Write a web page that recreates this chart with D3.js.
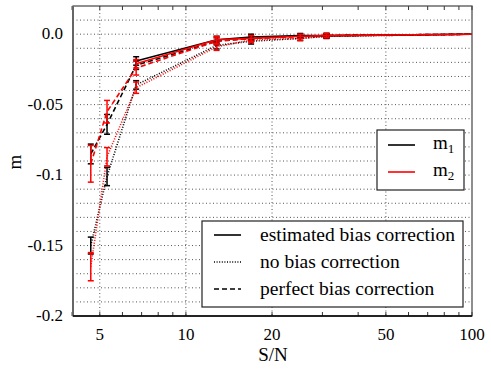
<!DOCTYPE html>
<html>
<head>
<meta charset="utf-8">
<script src="https://cdn.jsdelivr.net/npm/d3@7"></script>
<style>
  body { margin: 0; background: #fff; }
</style>
</head>
<body>
<div id="viz-container"></div>
<script>
// S/N values of the measurements
let snr = [4.65, 5.3, 6.7, 12.8, 16.9, 25.1, 31, 100];

// estimated bias correction (starts at 3rd point)
let m1Est = [null, null, -0.019, -0.004, -0.002, -0.001, -0.001, 0.0];
let m2Est = [null, null, -0.021, -0.004, -0.003, -0.0015, -0.001, 0.0];
let m1EstErr = [0, 0, 0.003, 0.0025, 0.002, 0.0015, 0.0015, 0];
let m2EstErr = [0, 0, 0.003, 0.0025, 0.002, 0.0015, 0.0015, 0];

// no bias correction
let m1None = [-0.150, -0.101, -0.036, -0.008, -0.005, -0.003, -0.0015, 0.0];
let m2None = [-0.165, -0.087, -0.038, -0.009, -0.004, -0.003, -0.0015, 0.0];
let m1NoneErr = [0.006, 0.0065, 0.003, 0.0025, 0.002, 0.0015, 0.0015, 0];
let m2NoneErr = [0.01, 0.0065, 0.004, 0.0025, 0.002, 0.0015, 0.0015, 0];

// perfect bias correction
let m1Perf = [-0.085, -0.064, -0.022, -0.005, -0.003, -0.0015, -0.001, 0.0];
let m2Perf = [-0.092, -0.055, -0.024, -0.005, -0.003, -0.0015, -0.001, 0.0];
let m1PerfErr = [0.007, 0.007, 0.003, 0.0025, 0.002, 0.0015, 0.0015, 0];
let m2PerfErr = [0.013, 0.008, 0.005, 0.0025, 0.002, 0.0015, 0.0015, 0];

let xTicks = [5, 10, 20, 50, 100];
let xTickLabels = ["5", "10", "20", "50", "100"];
let yTicks = [0, -0.05, -0.1, -0.15, -0.2];
let yTickLabels = ["0.0", "-0.05", "-0.1", "-0.15", "-0.2"];
let xMinor = [4, 6, 7, 8, 9, 30, 40, 60, 70, 80, 90];

let width = 491, height = 371;
let mLeft = 73, mRight = 472, mTop = 6, mBottom = 316;

let svg = d3.select("#viz-container")
  .append("svg")
    .attr("width", width)
    .attr("height", height)
    .attr("font-family", "'Liberation Serif', 'DejaVu Serif', serif");

let x = d3.scaleLog().domain([4.03, 100]).range([mLeft, mRight]);
let y = d3.scaleLinear().domain([-0.2, 0.02]).range([mBottom, mTop]);

// grid
let hGrid = d3.range(-19, 2).map(d => d / 100);
svg.append("g").selectAll("line").data(hGrid).enter().append("line")
  .attr("x1", mLeft).attr("x2", mRight)
  .attr("y1", d => y(d)).attr("y2", d => y(d))
  .attr("stroke", "#555").attr("stroke-width", 1)
  .attr("stroke-dasharray", "1,2.5");
svg.append("g").selectAll("line").data([5, 10, 20, 50]).enter().append("line")
  .attr("x1", d => x(d)).attr("x2", d => x(d))
  .attr("y1", mTop).attr("y2", mBottom)
  .attr("stroke", "#555").attr("stroke-width", 1)
  .attr("stroke-dasharray", "1,2.5");

// minor ticks on x (top and bottom)
svg.append("g").selectAll("line").data(xMinor.concat(xTicks)).enter().append("line")
  .attr("x1", d => x(d)).attr("x2", d => x(d))
  .attr("y1", mBottom).attr("y2", mBottom - 4)
  .attr("stroke", "#333");
svg.append("g").selectAll("line").data(xMinor.concat(xTicks)).enter().append("line")
  .attr("x1", d => x(d)).attr("x2", d => x(d))
  .attr("y1", mTop).attr("y2", mTop + 4)
  .attr("stroke", "#333");

// series
let series = [
  {vals: m1None, err: m1NoneErr, color: "#000", dash: "1,1.6"},
  {vals: m2None, err: m2NoneErr, color: "#f00", dash: "1,1.6"},
  {vals: m1Perf, err: m1PerfErr, color: "#000", dash: "5,3"},
  {vals: m2Perf, err: m2PerfErr, color: "#f00", dash: "5,3"},
  {vals: m1Est, err: m1EstErr, color: "#000", dash: null},
  {vals: m2Est, err: m2EstErr, color: "#f00", dash: null}
];

let line = d3.line()
  .defined(d => d.v !== null)
  .x(d => x(d.s))
  .y(d => y(d.v));

series.forEach(function(sr){
  let pts = snr.map((s, i) => ({s: s, v: sr.vals[i], e: sr.err[i]}));
  svg.append("path")
    .datum(pts)
    .attr("d", line)
    .attr("fill", "none")
    .attr("stroke", sr.color)
    .attr("stroke-width", 1.6)
    .attr("stroke-dasharray", sr.dash);
  let eb = svg.append("g").selectAll("g")
    .data(pts.filter(d => d.v !== null && d.e > 0))
    .enter().append("g")
    .attr("stroke", sr.color).attr("stroke-width", 1.5);
  eb.append("line")
    .attr("x1", d => x(d.s)).attr("x2", d => x(d.s))
    .attr("y1", d => y(d.v - d.e)).attr("y2", d => y(d.v + d.e));
  eb.append("line")
    .attr("x1", d => x(d.s) - 3).attr("x2", d => x(d.s) + 3)
    .attr("y1", d => y(d.v - d.e)).attr("y2", d => y(d.v - d.e));
  eb.append("line")
    .attr("x1", d => x(d.s) - 3).attr("x2", d => x(d.s) + 3)
    .attr("y1", d => y(d.v + d.e)).attr("y2", d => y(d.v + d.e));
});

// frame
svg.append("rect")
  .attr("x", mLeft).attr("y", mTop)
  .attr("width", mRight - mLeft).attr("height", mBottom - mTop)
  .attr("fill", "none").attr("stroke", "#444").attr("stroke-width", 1.2);
svg.append("line")
  .attr("x1", mLeft).attr("x2", mLeft).attr("y1", mTop).attr("y2", mBottom)
  .attr("stroke", "#666").attr("stroke-width", 2);
svg.append("line")
  .attr("x1", mLeft).attr("x2", mRight).attr("y1", mBottom).attr("y2", mBottom)
  .attr("stroke", "#000").attr("stroke-width", 1.5);

// tick labels
svg.append("g").selectAll("text").data(xTicks).enter().append("text")
  .attr("x", d => x(d)).attr("y", 340)
  .attr("text-anchor", "middle")
  .attr("font-size", 17)
  .text((d, i) => xTickLabels[i]);
svg.append("g").selectAll("text").data(yTicks).enter().append("text")
  .attr("x", 63).attr("y", d => y(d) + 5)
  .attr("text-anchor", "end")
  .attr("font-size", 17)
  .text((d, i) => yTickLabels[i]);

// axis titles
svg.append("text")
  .attr("x", 273).attr("y", 361)
  .attr("text-anchor", "middle").attr("font-size", 19)
  .text("S/N");
svg.append("text")
  .attr("transform", "translate(21,162) rotate(-90)")
  .attr("text-anchor", "middle").attr("font-size", 19)
  .text("m");

// legend: m1 / m2
let leg1 = svg.append("g");
leg1.append("rect")
  .attr("x", 377).attr("y", 130).attr("width", 87).attr("height", 60)
  .attr("fill", "#fff").attr("stroke", "#222").attr("stroke-width", 1.2);
[["#000", "1", 145], ["#f00", "2", 172]].forEach(function(d){
  leg1.append("line")
    .attr("x1", 388).attr("x2", 415).attr("y1", d[2]).attr("y2", d[2])
    .attr("stroke", d[0]).attr("stroke-width", 1.6);
  let t = leg1.append("text")
    .attr("x", 433).attr("y", d[2] + 4).attr("font-size", 19);
  t.append("tspan").text("m");
  t.append("tspan").attr("dy", 4).attr("font-size", 13).text(d[1]);
});

// legend: bias correction types
let leg2 = svg.append("g");
leg2.append("rect")
  .attr("x", 202).attr("y", 221).attr("width", 261).attr("height", 86)
  .attr("fill", "#fff").attr("stroke", "#222").attr("stroke-width", 1.2);
[["estimated bias correction", null, 235], ["no bias correction", "1,1.6", 262], ["perfect bias correction", "5,3", 289]].forEach(function(d){
  leg2.append("line")
    .attr("x1", 214).attr("x2", 241).attr("y1", d[2]).attr("y2", d[2])
    .attr("stroke", "#000").attr("stroke-width", 1.6)
    .attr("stroke-dasharray", d[1]);
  leg2.append("text")
    .attr("x", 260).attr("y", d[2] + 6).attr("font-size", 19.5)
    .text(d[0]);
});
</script>
</body>
</html>
